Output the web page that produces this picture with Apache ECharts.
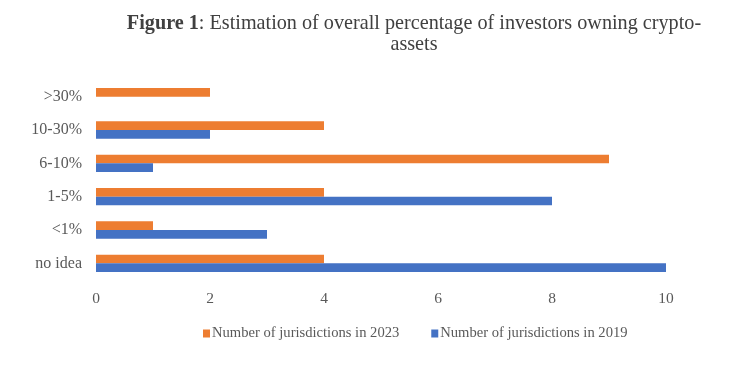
<!DOCTYPE html>
<html><head><meta charset="utf-8">
<script src="https://cdn.jsdelivr.net/npm/echarts@6/dist/echarts.min.js"></script>
<style>html,body{margin:0;padding:0;background:#fff;}#c{width:756px;height:368px;}</style>
</head><body><div id="c"></div>
<script>
const categories = ['no idea', '<1%', '1-5%', '6-10%', '10-30%', '>30%'];
const values2023 = [4, 1, 4, 9, 4, 2];
const values2019 = [10, 3, 8, 1, 2, 0];
const xTicks = [0, 2, 4, 6, 8, 10];
const seriesNames = ['Number of jurisdictions in 2023', 'Number of jurisdictions in 2019'];

const font = '"Liberation Serif", "Times New Roman", serif';
const chart = echarts.init(document.getElementById('c'), null, {renderer: 'canvas'});
chart.setOption({
  animation: false,
  backgroundColor: '#fff',
  title: {
    text: '{b|Figure 1}: Estimation of overall percentage of investors owning crypto-\nassets',
    left: 409, top: 8, textAlign: 'center',
    textStyle: {
      fontFamily: font, fontSize: 20.2, fontWeight: 'normal', color: '#404040', lineHeight: 21,
      rich: { b: { fontFamily: font, fontSize: 20.2, fontWeight: 'bold', color: '#404040', lineHeight: 21 } }
    }
  },
  legend: {
    data: seriesNames,
    left: 198, top: 321,
    itemWidth: 7, itemHeight: 8, itemGap: 32,
    icon: 'rect',
    textStyle: { fontFamily: font, fontSize: 14.6, color: '#595959', padding: [0, 0, 0, -3] }
  },
  grid: { left: 96, right: 90, top: 80, bottom: 88, containLabel: false },
  xAxis: {
    type: 'value', min: xTicks[0], max: xTicks[xTicks.length - 1], interval: 2,
    axisLine: { show: false }, axisTick: { show: false }, splitLine: { show: false },
    axisLabel: { fontFamily: font, fontSize: 15.5, color: '#595959', margin: 11 }
  },
  yAxis: {
    type: 'category', data: categories,
    axisLine: { show: false }, axisTick: { show: false },
    axisLabel: { fontFamily: font, fontSize: 16, color: '#595959', margin: 14 }
  },
  series: [
    { name: seriesNames[0], type: 'bar', data: values2023, itemStyle: { color: '#ED7D31' }, barGap: '0%', barCategoryGap: '48%' },
    { name: seriesNames[1], type: 'bar', data: values2019, itemStyle: { color: '#4472C4' }, barGap: '0%', barCategoryGap: '48%' }
  ]
});
</script></body></html>
